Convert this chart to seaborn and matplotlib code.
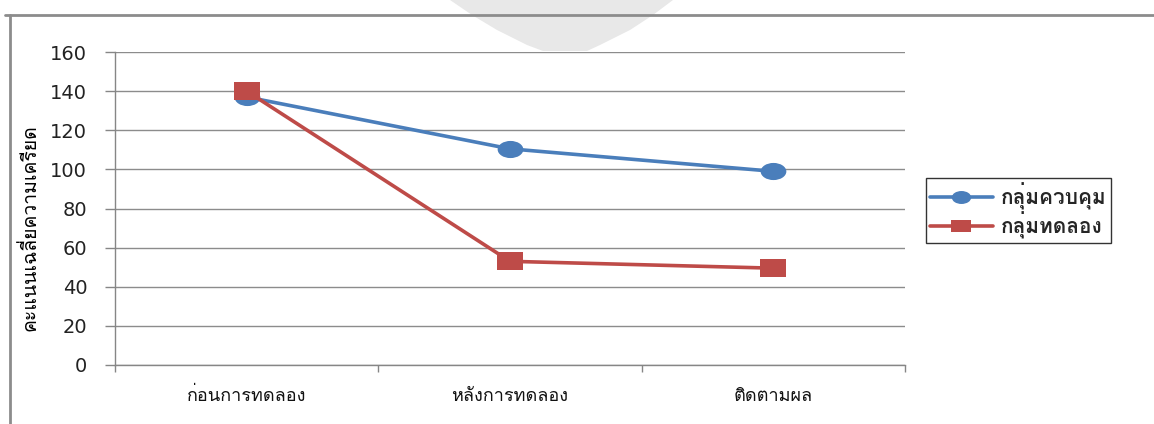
import numpy as np
import pandas as pd
import matplotlib
matplotlib.use("Agg")
import matplotlib.pyplot as plt
from matplotlib import font_manager
from matplotlib.path import Path
from matplotlib.lines import Line2D
from matplotlib.patches import Polygon
import seaborn as sns

# ---- data -------------------------------------------------------------
phases = ["ก่อนการทดลอง", "หลังการทดลอง", "ติดตามผล"]
groups = ["กลุ่มควบคุม", "กลุ่มทดลอง"]
control_scores = [137, 110.5, 99]
treatment_scores = [140, 53, 49.5]
y_ticks = [0, 20, 40, 60, 80, 100, 120, 140, 160]
y_label = "คะแนนเฉลี่ยความเครียด"


def thai_family():
    """Return the first installed family that has Thai glyphs."""
    try:
        from fontTools.ttLib import TTFont
    except Exception:
        return None
    for f in font_manager.fontManager.ttflist:
        try:
            tt = TTFont(f.fname, fontNumber=0, lazy=True)
            cmap = tt.getBestCmap()
            if cmap and ord("ก") in cmap and ord("ุ") in cmap:
                return f.name
        except Exception:
            continue
    return None


sns.set_theme(style="white")
thai = thai_family()
families = ([thai] if thai else []) + ["DejaVu Sans"]
plt.rcParams["font.family"] = families

df = pd.DataFrame({
    "phase": phases * 2,
    "score": control_scores + treatment_scores,
    "group": [groups[0]] * 3 + [groups[1]] * 3,
})

# wide markers: an ellipse and a flat rectangle
ellipse = Path.unit_circle()
ellipse = Path(ellipse.vertices * np.array([1.5, 1.0]), ellipse.codes)
rect = Path([(-1.5, -1), (1.5, -1), (1.5, 1), (-1.5, 1), (-1.5, -1)],
            [Path.MOVETO, Path.LINETO, Path.LINETO, Path.LINETO, Path.CLOSEPOLY])

blue = "#4A7EBB"
red = "#BE4B48"
palette = {groups[0]: blue, groups[1]: red}
markers = {groups[0]: ellipse, groups[1]: rect}

fig = plt.figure(figsize=(11.54, 4.24), dpi=100)

# faint wedge at the top edge
W, H = 1154, 424
wedge_px = [(450, 0), (673, 0), (653, 15), (630, 30), (600, 45), (587, 51),
            (543, 51), (527, 45), (497, 30), (472, 15)]
wedge = Polygon([(x / W, 1 - y / H) for x, y in wedge_px], closed=True,
                transform=fig.transFigure, facecolor="#e8e8e8",
                edgecolor="none", zorder=-1)
fig.add_artist(wedge)

ax = fig.add_axes([115 / W, 1 - 365 / H, 790 / W, 313 / H])
ax.patch.set_alpha(0)

sns.lineplot(data=df, x="phase", y="score", hue="group", style="group",
             hue_order=groups, style_order=groups,
             palette=palette, markers=markers, dashes=False,
             linewidth=2.6, markersize=18.5, markeredgewidth=0,
             sort=False, legend=False, ax=ax)

ax.set_xlim(-0.5, 2.5)
ax.set_ylim(0, 160)
ax.set_yticks(y_ticks)
ax.set_yticklabels([str(v) for v in y_ticks], fontsize=14, color="#222222",
                   family="DejaVu Sans")
ax.set_xticks(range(len(phases)))
ax.set_xticklabels(phases, fontsize=13, color="#111111")
ax.set_xticks([-0.5, 0.5, 1.5, 2.5], minor=True)
ax.tick_params(axis="x", which="major", length=0, pad=16)
ax.tick_params(axis="x", which="minor", length=5, color="#868686", width=1,
               direction="out", bottom=True)
ax.tick_params(axis="y", length=7, color="#868686", width=1, left=True,
               pad=13)

ax.grid(axis="y", color="#8c8c8c", linewidth=1)
ax.set_axisbelow(True)
for side in ("top", "right"):
    ax.spines[side].set_visible(False)
for side in ("left", "bottom"):
    ax.spines[side].set_color("#868686")
    ax.spines[side].set_linewidth(1)

ax.set_xlabel("")
ax.set_ylabel(y_label, fontsize=14, color="#000000")
ax.yaxis.set_label_coords(-0.095, 0.44)

# legend
handles = [
    Line2D([], [], color=blue, linewidth=2.6, marker=ellipse, markersize=14,
           markeredgewidth=0),
    Line2D([], [], color=red, linewidth=2.6, marker=rect, markersize=14,
           markeredgewidth=0),
]
leg = fig.legend(handles, groups, loc="upper left",
                 bbox_to_anchor=(926 / W, 1 - 178 / H),
                 frameon=True, fancybox=False, edgecolor="#000000",
                 fontsize=15, handlelength=3.0, handletextpad=0.4,
                 borderpad=0.2, labelspacing=0.1, borderaxespad=0)
leg.get_frame().set_linewidth(1)
for t in leg.get_texts():
    t.set_fontweight("bold")

# chart-area frame
fig.add_artist(Line2D([5 / W, 1], [1 - 15 / H, 1 - 15 / H],
                      color="#8c8c8c", linewidth=2, transform=fig.transFigure))
fig.add_artist(Line2D([10 / W, 10 / W], [0, 1 - 15 / H],
                      color="#8c8c8c", linewidth=2, transform=fig.transFigure))

fig.savefig("out.png", dpi=100, facecolor="white")
